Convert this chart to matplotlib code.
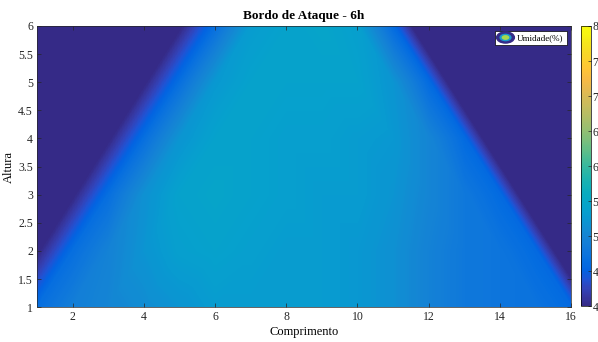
import numpy as np
import matplotlib
matplotlib.use('Agg')
import matplotlib.pyplot as plt
import matplotlib.tri as mtri
from matplotlib.colors import LinearSegmentedColormap, Normalize
from matplotlib.cm import ScalarMappable
from matplotlib.lines import Line2D
from matplotlib.markers import MarkerStyle
from matplotlib.transforms import Affine2D
from matplotlib.legend_handler import HandlerTuple

plt.rcParams['font.family'] = ['Liberation Serif', 'DejaVu Serif']

# measuring grid (Comprimento x Altura)
comprimento = [1, 2, 3, 4, 5, 6, 7, 8, 9, 10, 11, 12, 13, 14, 15, 16]
altura = [1, 2, 3, 4, 5, 6]

# humidity (%) per row of the grid, bottom row first
umidade_y1 = [4.65, 4.90, 5.00, 5.10, 5.20, 5.30, 5.30, 5.30, 5.30, 5.25, 5.15, 4.95, 4.80, 4.75, 4.72, 4.60]
umidade_y2 = [3.93, 4.65, 4.95, 5.20, 5.35, 5.40, 5.35, 5.30, 5.30, 5.25, 5.15, 4.95, 4.80, 4.75, 4.60, 3.40]
umidade_y3 = [3.10, 3.93, 4.65, 5.15, 5.40, 5.45, 5.40, 5.35, 5.30, 5.30, 5.20, 5.00, 4.80, 4.60, 3.40, 3.10]
umidade_y4 = [3.10, 3.10, 3.93, 4.65, 5.20, 5.40, 5.40, 5.35, 5.35, 5.30, 5.25, 5.00, 4.60, 3.40, 3.10, 3.10]
umidade_y5 = [3.10, 3.10, 3.10, 3.93, 4.65, 5.25, 5.40, 5.40, 5.40, 5.40, 5.20, 4.60, 3.40, 3.10, 3.10, 3.10]
umidade_y6 = [3.10, 3.10, 3.10, 3.10, 3.93, 4.65, 5.30, 5.40, 5.45, 5.35, 4.60, 3.40, 3.10, 3.10, 3.10, 3.10]

z = np.array([umidade_y1, umidade_y2, umidade_y3, umidade_y4, umidade_y5, umidade_y6])

# parula-like colormap
parula = LinearSegmentedColormap.from_list('parula', [
    (0.2081, 0.1663, 0.5292), (0.2123, 0.2138, 0.6270), (0.1959, 0.2645, 0.7279),
    (0.1253, 0.3242, 0.8303), (0.0117, 0.3875, 0.8820), (0.0165, 0.4266, 0.8786),
    (0.0498, 0.4586, 0.8641), (0.0723, 0.4887, 0.8467), (0.0793, 0.5200, 0.8312),
    (0.0641, 0.5570, 0.8240), (0.0343, 0.5966, 0.8199), (0.0239, 0.6287, 0.8038),
    (0.0228, 0.6535, 0.7768), (0.0384, 0.6743, 0.7436), (0.0843, 0.6928, 0.7062),
    (0.1453, 0.7098, 0.6646), (0.2178, 0.7250, 0.6193), (0.3022, 0.7376, 0.5712),
    (0.3953, 0.7459, 0.5244), (0.4871, 0.7491, 0.4840), (0.5709, 0.7485, 0.4494),
    (0.6473, 0.7456, 0.4188), (0.7184, 0.7411, 0.3905), (0.7858, 0.7356, 0.3633),
    (0.8507, 0.7299, 0.3360), (0.9139, 0.7258, 0.3063), (0.9739, 0.7314, 0.2666),
    (0.9990, 0.7653, 0.2164), (0.9880, 0.8066, 0.1794), (0.9697, 0.8481, 0.1475),
    (0.9589, 0.8949, 0.1132), (0.9661, 0.9514, 0.0755), (0.9763, 0.9831, 0.0538)])
norm = Normalize(vmin=4, vmax=8)

# triangulate the grid: left half split along "/", right half along "\"
X, Y = np.meshgrid(comprimento, altura)
nx, ny = len(comprimento), len(altura)
tris = []
for j in range(ny - 1):
    for i in range(nx - 1):
        a = j * nx + i
        b, c, d = a + 1, a + nx, a + nx + 1
        if i < (nx - 1) // 2:
            tris += [[a, b, d], [a, d, c]]
        else:
            tris += [[a, b, c], [b, d, c]]
tri = mtri.Triangulation(X.ravel(), Y.ravel(), tris)

fig = plt.figure(figsize=(5.98, 3.42), dpi=100)
ax = fig.add_axes([0.062, 0.102, 0.893, 0.822])
cax = fig.add_axes([0.9716, 0.105, 0.0167, 0.819])

levels = np.linspace(4, 8, 321)
ax.tricontourf(tri, z.ravel(), levels=levels, cmap=parula, norm=norm,
               extend='min', antialiased=False)
ax.set_xlim(1, 16)
ax.set_ylim(1, 6)
ax.set_xticks(np.arange(2, 17, 2))
ax.set_yticks(np.arange(1, 6.1, 0.5))
ax.set_yticklabels(['1', '1.5', '2', '2.5', '3', '3.5', '4', '4.5', '5', '5.5', '6'])
ax.tick_params(direction='in', top=True, right=True, length=3, width=0.5,
               labelsize=8.5, colors='#262626', pad=3)
for s in ax.spines.values():
    s.set_linewidth(0.5)
    s.set_color('#262626')

ax.set_title('Bordo de Ataque - 6h', fontsize=9.5, fontweight='bold', pad=5)
ax.set_xlabel('Comprimento', fontsize=9, labelpad=2)
ax.set_ylabel('Altura', fontsize=9, labelpad=2)

cb = fig.colorbar(ScalarMappable(norm=norm, cmap=parula), cax=cax,
                  ticks=np.arange(4, 8.1, 0.5))
cb.ax.tick_params(direction='in', length=2, width=0.5, labelsize=8.5, pad=1,
                  colors='#262626')
cb.ax.set_yticklabels(['4', '4.5', '5', '5.5', '6', '6.5', '7', '7.5', '8'])
cb.outline.set_linewidth(0.5)

# contour-style legend icon
ell = Affine2D().scale(1.6, 1.0)
outer = Line2D([], [], linestyle='none', markersize=8,
               marker=MarkerStyle('o', transform=ell),
               markerfacecolor=(0.2081, 0.1663, 0.5292), markeredgecolor=(0.2081, 0.1663, 0.5292))
ring = Line2D([], [], linestyle='none', markersize=5.5,
              marker=MarkerStyle('o', transform=ell),
              markerfacecolor=(0.1, 0.6, 0.8), markeredgecolor='none')
inner = Line2D([], [], linestyle='none', markersize=3.5,
               marker=MarkerStyle('o', transform=ell),
               markerfacecolor=(0.65, 0.85, 0.3), markeredgecolor='none')
leg = ax.legend([(outer, ring, inner)], ['Umidade(%)'], loc='upper right',
                handler_map={tuple: HandlerTuple(ndivide=1)},
                fontsize=6.5, frameon=True, fancybox=False, framealpha=1,
                handlelength=1.5, handletextpad=0.6, borderpad=0.35,
                borderaxespad=0.5)
leg.get_frame().set_edgecolor('black')
leg.get_frame().set_linewidth(0.5)

fig.savefig('out.png', dpi=100)
